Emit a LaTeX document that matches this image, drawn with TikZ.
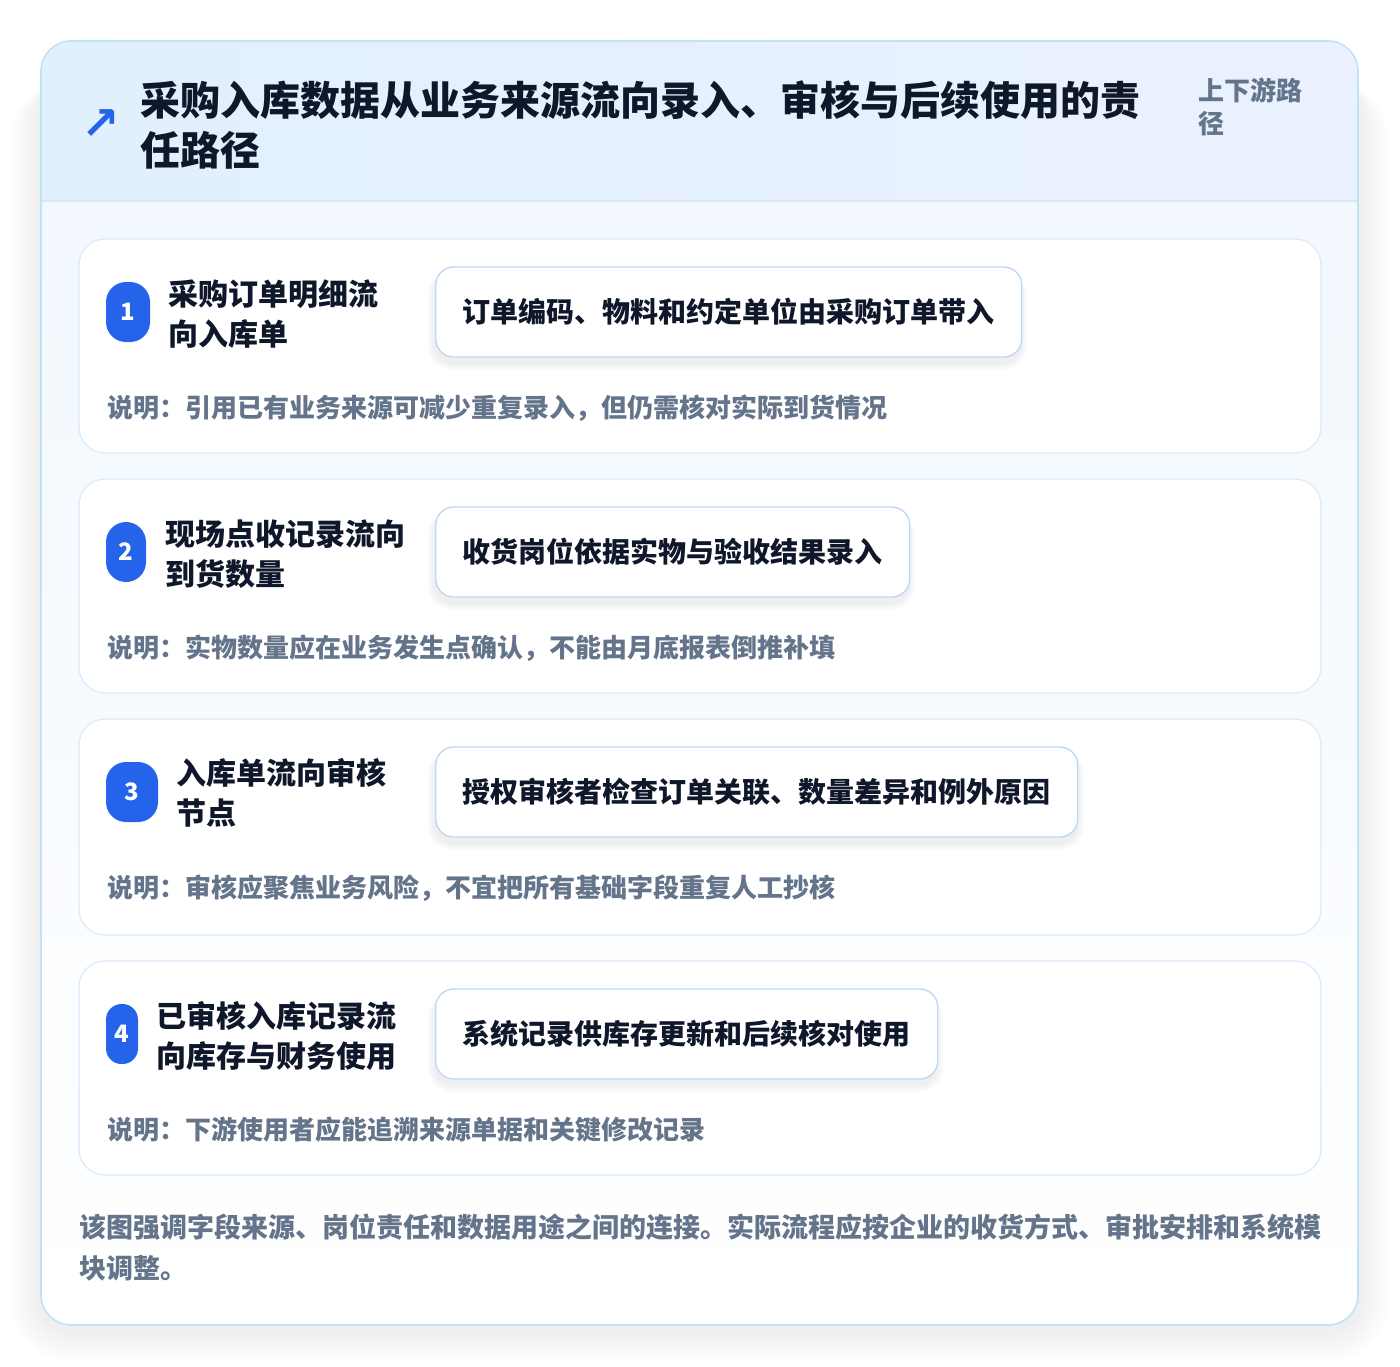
\documentclass[tikz,border=0pt]{standalone}
\usepackage{fontspec}
\setmainfont{Noto Sans CJK SC}
\newfontfamily\symfont{DejaVu Sans}
\definecolor{pagebg}{HTML}{FFFFFF}
\definecolor{outerborder}{HTML}{BEE3F6}
\definecolor{hdrL}{HTML}{E1F0FD}
\definecolor{hdrR}{HTML}{EBF1FE}
\definecolor{hdrline}{HTML}{D5E8F8}
\definecolor{bodytop}{HTML}{F2F8FE}
\definecolor{cardborder}{HTML}{D9EAFB}
\definecolor{boxborder}{HTML}{BFD8F8}
\definecolor{badgeblue}{HTML}{2563EB}
\definecolor{ink}{HTML}{0F172A}
\definecolor{muted}{HTML}{64748B}
\begin{document}
\begin{tikzpicture}[x=1pt,y=-1pt,
  card/.style={draw=cardborder, line width=1.2pt, fill=white, rounded corners=26pt, inner sep=0pt, minimum width=1242pt},
  flowbox/.style={draw=boxborder, line width=1.4pt, fill=white, rounded corners=18pt, inner xsep=27pt, inner ysep=0pt, minimum height=90pt, anchor=west, text=ink, font=\bfseries\fontsize{28pt}{34pt}\selectfont},
  badge/.style={fill=badgeblue, minimum height=60pt, inner sep=0pt, text=white, font=\bfseries\fontsize{24pt}{28pt}\selectfont},
  steplabel/.style={anchor=west, align=left, inner sep=0pt, text=ink, font=\bfseries\fontsize{30pt}{40pt}\selectfont},
  notetext/.style={anchor=base west, inner sep=0pt, text=muted, font=\bfseries\fontsize{26pt}{32pt}\selectfont},
  titletext/.style={anchor=base west, inner sep=0pt, text=ink, font=\bfseries\fontsize{40pt}{50pt}\selectfont},
  sidetext/.style={anchor=base west, inner sep=0pt, text=muted, font=\bfseries\fontsize{26pt}{33pt}\selectfont},
  foottext/.style={anchor=base west, inner sep=0pt, text=muted, font=\bfseries\fontsize{27pt}{41pt}\selectfont}
]
\useasboundingbox (0,0) rectangle (1400,1366);
\fill[pagebg] (0,0) rectangle (1400,1366);

% outer soft shadow
\foreach \i in {1,...,16}{
  \pgfmathsetmacro{\rr}{30+2*\i}
  \fill[black, opacity=0.0055, rounded corners=\rr pt] (41-2*\i,41+40) rectangle (1358+2*\i,1325+6+2*\i);
}

% outer card body
\begin{scope}
  \clip[rounded corners=30pt] (41,41) rectangle (1358,1325);
  \shade[top color=bodytop, bottom color=white] (41,201) rectangle (1358,1325);
  \shade[left color=hdrL, right color=hdrR] (41,41) rectangle (1358,201);
  \draw[hdrline, line width=1.2pt] (41,201) -- (1358,201);
\end{scope}
\draw[outerborder, line width=1.6pt, rounded corners=30pt] (41,41) rectangle (1358,1325);

% header
\node[inner sep=0pt, text=badgeblue, font=\symfont\bfseries\fontsize{46pt}{46pt}\selectfont] (icon) at (101,125) {↗};
\node[titletext] (title1) at (140,115) {采购入库数据从业务来源流向录入、审核与后续使用的责};
\node[titletext] (title2) at (140,165) {任路径};
\node[sidetext] (side1) at (1198,100) {上下游路};
\node[sidetext] (side2) at (1198,133) {径};

% cards
\node[card, minimum height=214pt] (c1) at (700,346) {};
\node[card, minimum height=214pt] (c2) at (700,586) {};
\node[card, minimum height=216pt] (c3) at (700,827) {};
\node[card, minimum height=214pt] (c4) at (700,1068) {};

% flow box shadows
\foreach \yy/\ww in {312/585, 552/473, 792/642, 1034/501}{
  \foreach \i in {1,...,8}{
    \fill[black, opacity=0.006, rounded corners={18+\i}] (435-\i,\yy-45+4) rectangle (435+\ww+\i,\yy+45+6+\i);
  }
}

% step 1
\node[badge, rounded corners=20pt, minimum width=44pt] (b1) at (128,312) {1};
\node[steplabel] (l1) at (168,314) {采购订单明细流\\向入库单};
\node[flowbox] (f1) at (435,312) {订单编码、物料和约定单位由采购订单带入};
\node[notetext] (n1) at (107,417) {说明：引用已有业务来源可减少重复录入，但仍需核对实际到货情况};

% step 2
\node[badge, rounded corners=20pt, minimum width=40pt] (b2) at (126,552) {2};
\node[steplabel] (l2) at (165,554) {现场点收记录流向\\到货数量};
\node[flowbox] (f2) at (435,552) {收货岗位依据实物与验收结果录入};
\node[notetext] (n2) at (107,657) {说明：实物数量应在业务发生点确认，不能由月底报表倒推补填};

% step 3
\node[badge, rounded corners=20pt, minimum width=52pt] (b3) at (132,792) {3};
\node[steplabel] (l3) at (176,793) {入库单流向审核\\节点};
\node[flowbox] (f3) at (435,792) {授权审核者检查订单关联、数量差异和例外原因};
\node[notetext] (n3) at (107,897) {说明：审核应聚焦业务风险，不宜把所有基础字段重复人工抄核};

% step 4
\node[badge, rounded corners=15.5pt, minimum width=32pt] (b4) at (122,1034) {4};
\node[steplabel] (l4) at (156,1036) {已审核入库记录流\\向库存与财务使用};
\node[flowbox] (f4) at (435,1034) {系统记录供库存更新和后续核对使用};
\node[notetext] (n4) at (107,1139) {说明：下游使用者应能追溯来源单据和关键修改记录};

% footer
\node[foottext] (foot1) at (79,1237) {该图强调字段来源、岗位责任和数据用途之间的连接。实际流程应按企业的收货方式、审批安排和系统模};
\node[foottext] (foot2) at (79,1278) {块调整。};
\end{tikzpicture}
\end{document}
